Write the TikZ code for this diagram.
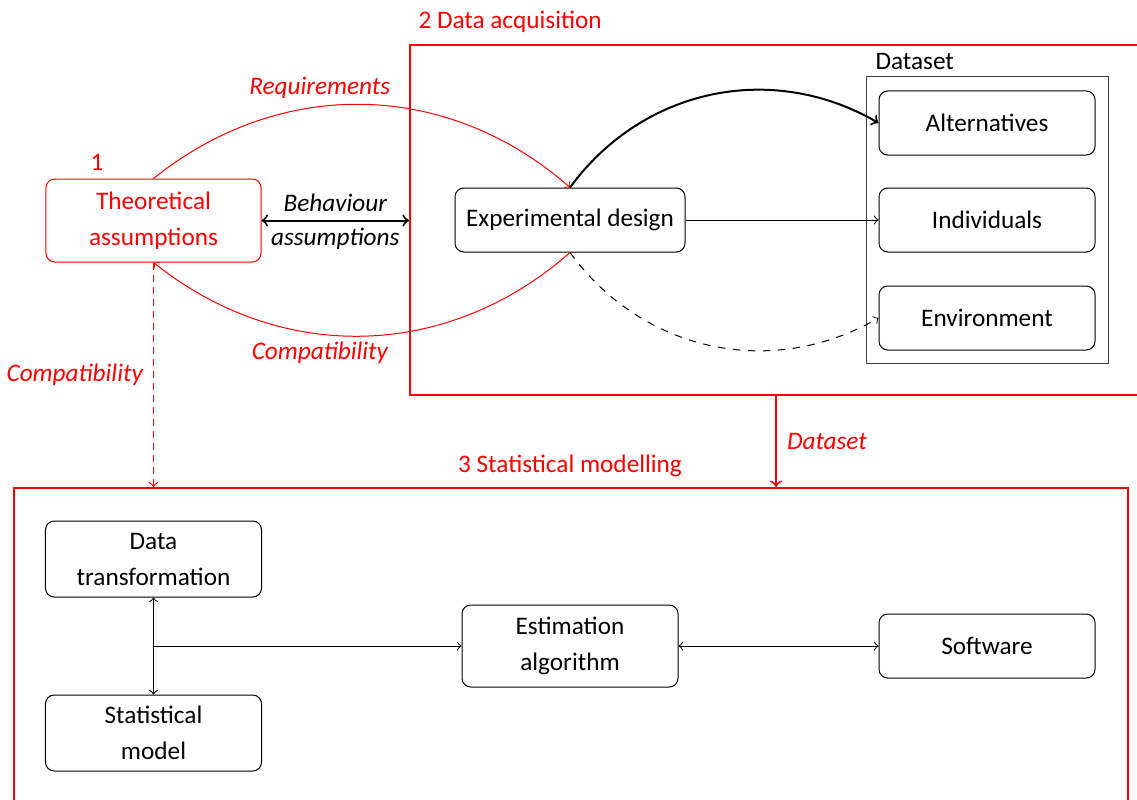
\documentclass[tikz,border=0pt]{standalone}
\usepackage{fontspec}
\setmainfont{Carlito}
\begin{document}
\begin{tikzpicture}[x=0.4pt,y=-0.4pt,
  font=\fontsize{10.1}{14.4}\selectfont,
  box/.style={draw, rounded corners=3.5pt, align=center, inner sep=2pt},
  wbox/.style={box, minimum width=86.4pt, minimum height=25.6pt},
  redbox/.style={draw=red, line width=0.8pt},
  lab/.style={font=\fontsize{10.1}{14.4}\selectfont\itshape},
  every node/.style={inner sep=0pt}]
\useasboundingbox (0,0) rectangle (1137,799);

% region boxes
\node[redbox, minimum width=292.8pt, minimum height=140pt] (box2) at (776,220) {};
\node[redbox, minimum width=445.6pt, minimum height=128.8pt] (box3) at (571,649) {};
\node[draw, black!75, minimum width=96.8pt, minimum height=114.4pt] (dsbox) at (987,220) {};

\node[red, anchor=west] (l2) at (418,22) {2 Data acquisition};
\node[anchor=west] (lds) at (875,61) {Dataset};
\node[red] (l1) at (97,162) {1};
\node[red] (l3) at (570,466) {3 Statistical modelling};

% nodes
\node[box, red, minimum width=86pt, minimum height=33.2pt] (theo) at (153.5,220.5) {Theoretical\\assumptions};
\node[box, minimum width=92pt, minimum height=25.6pt] (exp) at (570,220) {Experimental design};
\node[wbox] (alt) at (987,123) {Alternatives};
\node[wbox] (ind) at (987,220) {Individuals};
\node[wbox] (env) at (987,318) {Environment};

\node[wbox, minimum height=30.4pt] (dt) at (153.5,559) {Data\\transformation};
\node[wbox, minimum height=30.4pt] (sm) at (153.5,733) {Statistical\\model};
\node[wbox, minimum height=32.8pt] (est) at (570,646) {Estimation\\algorithm};
\node[wbox] (soft) at (987,646) {Software};

% connectors
\draw[red, ->] (theo.north) to[bend left=40] node[pos=0.4, above=3pt, lab] {Requirements} (exp.north);
\draw[red, ->] (exp.south) to[bend left=40] node[pos=0.6, below=3pt, lab] {Compatibility} (theo.south);
\draw[thick, <->] (theo.east) -- node[above=3pt, lab] {Behaviour} node[below=2.5pt, lab] {assumptions} (theo.east -| box2.west);
\draw[thick, ->] (exp.north) to[bend left=42] (alt.west);
\draw[->] (exp.east) -- (ind.west);
\draw[dashed, ->] (exp.south) to[bend right=42] (env.west);
\draw[draw=red, line width=0.5pt, dash pattern=on 3pt off 1.8pt, ->] (theo.south) -- node[pos=0.5, left=4pt, lab, red] {Compatibility} (theo.south |- box3.north);
\draw[red, line width=0.8pt, ->] (box2.south) -- node[right=4pt, lab] {Dataset} (box2.south |- box3.north);

\draw[<->] (dt.south) -- (sm.north);
\coordinate (junc) at (dt.south |- est.west);
\draw[->] (junc) -- (est.west);
\draw[<->] (est.east) -- (soft.west);
\end{tikzpicture}
\end{document}
